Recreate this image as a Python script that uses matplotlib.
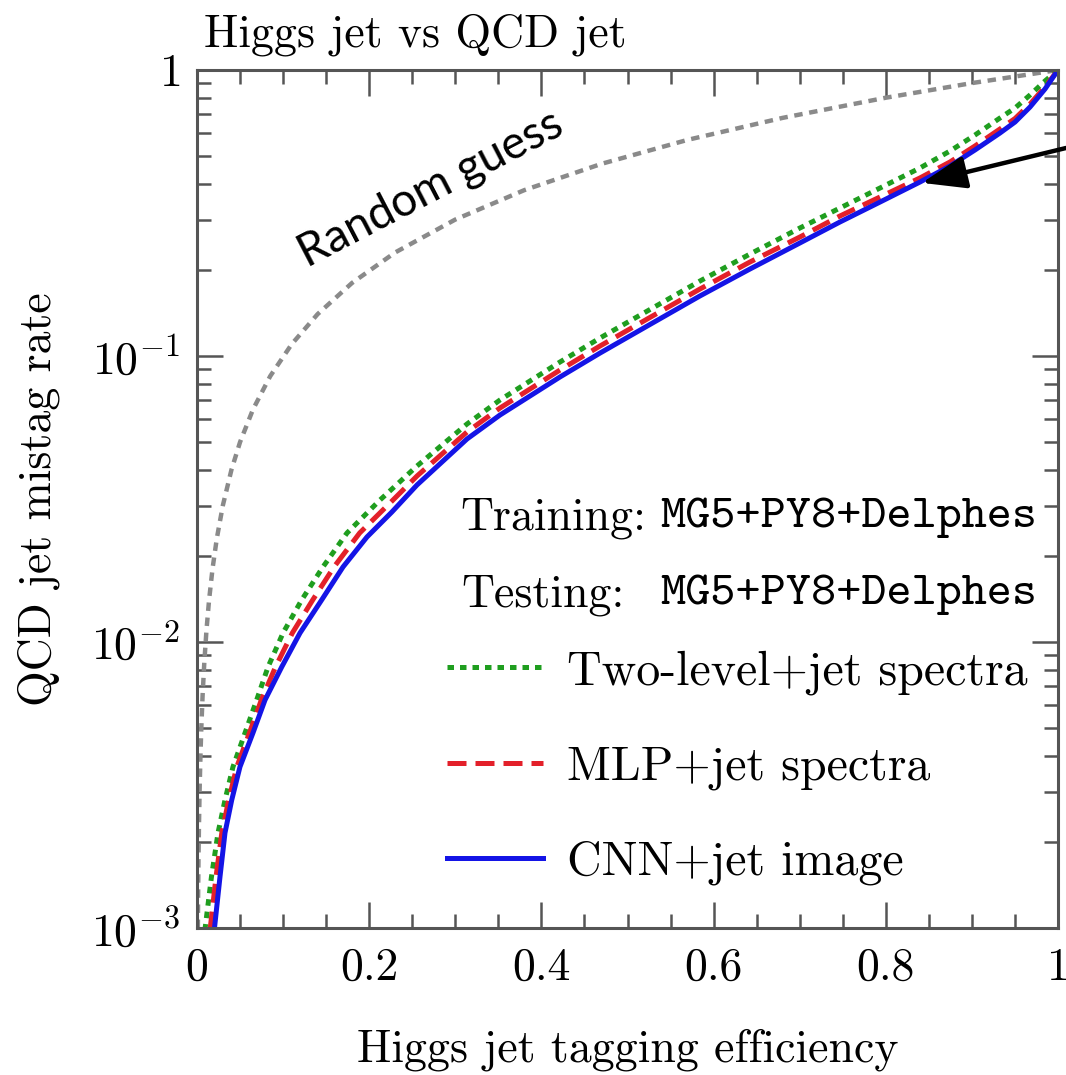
import matplotlib
matplotlib.use("Agg")
import matplotlib.pyplot as plt
from matplotlib.ticker import FixedLocator, NullFormatter, LogLocator

# ---------------- data ----------------
random_eff = [0.001, 0.0013, 0.0017, 0.0022, 0.003, 0.004, 0.005, 0.0065, 0.0085, 0.011,
              0.014, 0.018, 0.023, 0.03, 0.04, 0.05, 0.065, 0.085, 0.11, 0.14, 0.18,
              0.23, 0.3, 0.38, 0.47, 0.57, 0.68, 0.8, 0.9, 1.0]
random_mis = [0.001, 0.0013, 0.0017, 0.0022, 0.003, 0.004, 0.005, 0.0065, 0.0085, 0.011,
              0.014, 0.018, 0.023, 0.03, 0.04, 0.05, 0.065, 0.085, 0.11, 0.14, 0.18,
              0.23, 0.3, 0.38, 0.47, 0.57, 0.68, 0.8, 0.9, 1.0]

twolevel_eff = [0.0091, 0.0168, 0.0244, 0.0325, 0.0418, 0.0558, 0.0693, 0.0825, 0.0999,
                0.1216, 0.1463, 0.1742, 0.2125, 0.2555, 0.3136, 0.3519, 0.4216, 0.4681,
                0.5261, 0.5842, 0.6423, 0.7003, 0.7468, 0.7933, 0.8397, 0.8746, 0.9036,
                0.9326, 0.9501, 0.9675, 0.9849, 1.0]
twolevel_mis = [0.00098, 0.00151, 0.00215, 0.00280, 0.00366, 0.00481, 0.00627, 0.00818,
                0.01075, 0.01403, 0.01830, 0.02405, 0.03136, 0.04124, 0.05784, 0.07018,
                0.09528, 0.1156, 0.1454, 0.1829, 0.2273, 0.2803, 0.3292, 0.3867, 0.4544,
                0.5209, 0.5925, 0.6794, 0.7364, 0.8177, 0.9153, 1.0]

mlp_eff = [0.0151, 0.0221, 0.0288, 0.0368, 0.0462, 0.0609, 0.0747, 0.0912, 0.1107, 0.1344,
           0.1591, 0.1889, 0.2265, 0.2555, 0.3136, 0.3519, 0.4216, 0.4681, 0.5261, 0.5842,
           0.6423, 0.7003, 0.7468, 0.7933, 0.8397, 0.8746, 0.9036, 0.9326, 0.9501, 0.9675,
           0.9849, 1.0]
mlp_mis = [0.00098, 0.00151, 0.00215, 0.00280, 0.00366, 0.00481, 0.00627, 0.00818, 0.01075,
           0.01403, 0.01830, 0.02405, 0.03112, 0.03805, 0.05424, 0.06578, 0.08933, 0.1084,
           0.1364, 0.1715, 0.2132, 0.2607, 0.3087, 0.3597, 0.4193, 0.4769, 0.5424, 0.6218,
           0.6767, 0.7604, 0.8720, 1.0]

cnn_eff = [0.0200, 0.0267, 0.0325, 0.0403, 0.0499, 0.0650, 0.0790, 0.0984, 0.1196, 0.1448,
           0.1696, 0.1974, 0.2265, 0.2555, 0.3136, 0.3519, 0.4216, 0.4681, 0.5261, 0.5842,
           0.6423, 0.7003, 0.7468, 0.7933, 0.8397, 0.8746, 0.9036, 0.9326, 0.9501, 0.9675,
           0.9849, 1.0]
cnn_mis = [0.00098, 0.00151, 0.00215, 0.00280, 0.00366, 0.00481, 0.00627, 0.00818, 0.01075,
           0.01403, 0.01830, 0.02329, 0.02851, 0.03540, 0.05127, 0.06218, 0.08447, 0.1024,
           0.1289, 0.1622, 0.2015, 0.2485, 0.2942, 0.3454, 0.4058, 0.4617, 0.5253, 0.6021,
           0.6579, 0.7422, 0.8582, 1.0]

x_ticks = [0, 0.2, 0.4, 0.6, 0.8, 1.0]
x_tick_labels = ["0", "0.2", "0.4", "0.6", "0.8", "1"]
y_ticks = [1e-3, 1e-2, 1e-1, 1]
y_tick_labels = [r"$10^{-3}$", r"$10^{-2}$", r"$10^{-1}$", r"$1$"]

labels = ["Two-level+jet spectra", "MLP+jet spectra", "CNN+jet image"]

# ---------------- style ----------------
plt.rcParams["mathtext.fontset"] = "cm"
plt.rcParams["font.family"] = ["cmr10", "DejaVu Serif"]
FS = 33
SPINE = "#555555"

fig = plt.figure(figsize=(10.66, 10.75), dpi=100)
ax = fig.add_axes([197 / 1066, 1 - 928 / 1075, (1058 - 197) / 1066, (928 - 70) / 1075])

LW = 3.6
ax.plot(random_eff, random_mis, color="#8a8a8a", lw=3.2, dashes=(1.9, 1.5),
        dash_capstyle="butt")
l_two, = ax.plot(twolevel_eff, twolevel_mis, color="#1f9e1f", lw=LW, dashes=(1.3, 1.2),
                 dash_capstyle="butt")
l_mlp, = ax.plot(mlp_eff, mlp_mis, color="#e3202a", lw=LW, dashes=(3.8, 1.8),
                 dash_capstyle="butt")
l_cnn, = ax.plot(cnn_eff, cnn_mis, color="#1414e6", lw=LW)

ax.set_yscale("log")
ax.set_xlim(0, 1)
ax.set_ylim(1e-3, 1)

ax.set_xticks(x_ticks)
ax.set_xticklabels(x_tick_labels)
ax.xaxis.set_minor_locator(FixedLocator([i * 0.05 for i in range(21)]))
ax.set_yticks(y_ticks)
ax.set_yticklabels(y_tick_labels)
ax.yaxis.set_minor_locator(LogLocator(base=10, subs=[2, 3, 4, 5, 6, 7, 8, 9]))
ax.yaxis.set_minor_formatter(NullFormatter())

ax.tick_params(which="both", direction="in", top=True, right=True, color=SPINE,
               labelsize=FS, width=1.8)
ax.tick_params(which="major", length=19, pad=14)
ax.tick_params(which="minor", length=10)
ax.tick_params(axis="y", which="major", pad=12)
for s in ax.spines.values():
    s.set_color(SPINE)
    s.set_linewidth(2.2)

ax.set_xlabel("Higgs jet tagging efficiency", fontsize=FS, labelpad=28)
ax.set_ylabel("QCD jet mistag rate", fontsize=FS, labelpad=22)
fig.text(204 / 1066, 1 - 35 / 1075, "Higgs jet vs QCD jet", fontsize=FS,
         ha="left", va="center")

# Random guess annotation
ax.text(0.128, 0.203, "Random guess", fontsize=33, family=["Lato", "DejaVu Sans"],
        rotation=27.5, rotation_mode="anchor", ha="left", va="baseline",
        transform=ax.transData)

# arrow
ax.annotate("", xy=(0.842, 0.403), xycoords="data",
            xytext=(1.0, 1 - 148 / 1075), textcoords="figure fraction",
            arrowprops=dict(arrowstyle="-|>,head_length=1.35,head_width=0.5",
                            mutation_scale=20, color="black", lw=3.2,
                            shrinkA=0, shrinkB=0),
            annotation_clip=False)


def fx(px):
    return (px - 197) / 861


def fy(py):
    return (928 - py) / 858


TT = 34.5
ax.text(fx(460), fy(518), "Training:", fontsize=FS, transform=ax.transAxes,
        ha="left", va="center")
ax.text(fx(660), fy(518), "MG5+PY8+Delphes", fontsize=TT, family="cmtt10",
        transform=ax.transAxes, ha="left", va="center")
ax.text(fx(461), fy(595), "Testing:", fontsize=FS, transform=ax.transAxes,
        ha="left", va="center")
ax.text(fx(660), fy(595), "MG5+PY8+Delphes", fontsize=TT, family="cmtt10",
        transform=ax.transAxes, ha="left", va="center")

leg = ax.legend([l_two, l_mlp, l_cnn], labels, loc="upper left",
                bbox_to_anchor=(fx(447), fy(650)), frameon=False, fontsize=34.5,
                handlelength=2.0, handletextpad=0.5, labelspacing=1.05,
                borderaxespad=0, borderpad=0)

fig.savefig("out.png", dpi=100)
